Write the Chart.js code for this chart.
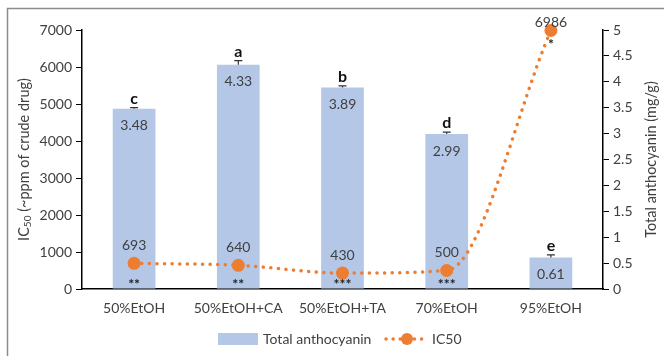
<!DOCTYPE html>
<html>
<head>
<meta charset="utf-8">
<script src="https://cdn.jsdelivr.net/npm/chart.js@4.4.1/dist/chart.umd.min.js"></script>
<style>
  html, body { margin: 0; padding: 0; background: #fff; }
  #wrap { position: relative; width: 664px; height: 356px; }
</style>
</head>
<body>
<div id="wrap"><canvas id="chart" width="664" height="356"></canvas></div>
<script>
// extraction solvents
const categories = ['50%EtOH', '50%EtOH+CA', '50%EtOH+TA', '70%EtOH', '95%EtOH'];

// total anthocyanin (mg/g), right axis
const anthocyanin = [3.48, 4.33, 3.89, 2.99, 0.61];
const anthocyaninErr = [0.02, 0.08, 0.03, 0.04, 0.05];
const groupLetters = ['c', 'a', 'b', 'd', 'e'];

// IC50 (~ppm of crude drug), left axis
const ic50 = [693, 640, 430, 500, 6986];
const significance = ['**', '**', '***', '***', '*'];

const leftMax = 7000, leftStep = 1000;
const rightMax = 5, rightStep = 0.5;

const BAR_COLOR = '#b4c7e7';
const LINE_COLOR = '#ed7d31';
const TEXT_COLOR = '#404040';
const FONT = 'Lato, "Open Sans", sans-serif';

// labels, error bars, axis titles, legend and frame
const extras = {
    id: 'extras',
    afterDatasetsDraw(chart) {
        const ctx = chart.ctx;
        const yR = chart.scales.yR;
        const area = chart.chartArea;
        const bars = chart.getDatasetMeta(1).data;
        const pts = chart.getDatasetMeta(0).data;

        ctx.save();
        ctx.textAlign = 'center';
        ctx.textBaseline = 'middle';

        bars.forEach((bar, i) => {
            // error bar
            const yTop = yR.getPixelForValue(anthocyanin[i] + anthocyaninErr[i]);
            ctx.strokeStyle = '#333';
            ctx.lineWidth = 1.2;
            ctx.beginPath();
            ctx.moveTo(bar.x, bar.y);
            ctx.lineTo(bar.x, yTop);
            ctx.moveTo(bar.x - 4, yTop);
            ctx.lineTo(bar.x + 4, yTop);
            ctx.stroke();

            // value inside the bar
            ctx.fillStyle = TEXT_COLOR;
            ctx.font = '14px ' + FONT;
            ctx.fillText(anthocyanin[i].toFixed(2), bar.x, bar.y + 17);

            // group letter
            ctx.fillStyle = '#111';
            ctx.font = 'bold 16px ' + FONT;
            ctx.fillText(groupLetters[i], bar.x, yTop - 9);
        });

        pts.forEach((p, i) => {
            ctx.fillStyle = TEXT_COLOR;
            ctx.font = '14px ' + FONT;
            ctx.fillText(String(ic50[i]), p.x, Math.max(p.y - 18, 22));

            ctx.fillStyle = '#222';
            ctx.font = 'bold 14px ' + FONT;
            const sy = (area.bottom - p.y < 40) ? area.bottom - 5 : p.y + 14;
            ctx.fillText(significance[i], p.x, sy);
        });

        // left axis title with subscript
        ctx.save();
        ctx.translate(24, (area.top + area.bottom) / 2);
        ctx.rotate(-Math.PI / 2);
        ctx.fillStyle = TEXT_COLOR;
        ctx.textAlign = 'left';
        ctx.textBaseline = 'middle';
        const big = '14.5px ' + FONT, small = '10px ' + FONT;
        const parts = [['IC', big, 0], ['50', small, 4], [' (~ppm of crude drug)', big, 0]];
        let total = 0;
        parts.forEach(pt => { ctx.font = pt[1]; total += ctx.measureText(pt[0]).width; });
        let x = -total / 2;
        parts.forEach(pt => {
            ctx.font = pt[1];
            ctx.fillText(pt[0], x, pt[2]);
            x += ctx.measureText(pt[0]).width;
        });
        ctx.restore();

        // right axis title
        ctx.save();
        ctx.translate(651, (area.top + area.bottom) / 2);
        ctx.rotate(-Math.PI / 2);
        ctx.fillStyle = TEXT_COLOR;
        ctx.font = '14.5px ' + FONT;
        ctx.fillText('Total anthocyanin (mg/g)', 0, 0);
        ctx.restore();

        // legend
        const ly = 339;
        ctx.fillStyle = BAR_COLOR;
        ctx.fillRect(218, ly - 6, 40, 12);
        ctx.fillStyle = TEXT_COLOR;
        ctx.font = '14px ' + FONT;
        ctx.textAlign = 'left';
        ctx.fillText('Total anthocyanin', 263, ly);
        ctx.strokeStyle = LINE_COLOR;
        ctx.lineWidth = 3.5;
        ctx.lineCap = 'round';
        ctx.setLineDash([0.1, 7]);
        ctx.beginPath();
        ctx.moveTo(386, ly);
        ctx.lineTo(428, ly);
        ctx.stroke();
        ctx.setLineDash([]);
        ctx.fillStyle = LINE_COLOR;
        ctx.beginPath();
        ctx.arc(407, ly, 6, 0, Math.PI * 2);
        ctx.fill();
        ctx.fillStyle = TEXT_COLOR;
        ctx.fillText('IC50', 432, ly);

        // outer frame (left and top edges)
        ctx.strokeStyle = '#8c8c8c';
        ctx.lineWidth = 1.5;
        ctx.beginPath();
        ctx.moveTo(7.5, 360);
        ctx.lineTo(7.5, 8.5);
        ctx.lineTo(670, 8.5);
        ctx.stroke();

        ctx.restore();
    }
};

new Chart(document.getElementById('chart').getContext('2d'), {
    data: {
        labels: categories,
        datasets: [
            {
                type: 'line',
                label: 'IC50',
                data: ic50,
                yAxisID: 'yL',
                order: 0,
                borderColor: LINE_COLOR,
                backgroundColor: LINE_COLOR,
                borderWidth: 3.5,
                borderDash: [0.1, 7.5],
                borderCapStyle: 'round',
                cubicInterpolationMode: 'monotone',
                pointRadius: 6.5,
                pointBorderWidth: 0,
                pointBackgroundColor: LINE_COLOR,
                clip: false,
                fill: false
            },
            {
                type: 'bar',
                label: 'Total anthocyanin',
                data: anthocyanin,
                yAxisID: 'yR',
                order: 1,
                backgroundColor: BAR_COLOR,
                categoryPercentage: 1,
                barPercentage: 0.41
            }
        ]
    },
    options: {
        responsive: false,
        animation: false,
        layout: { padding: { top: 30, bottom: 37, left: 0, right: 0 } },
        plugins: {
            legend: { display: false },
            tooltip: { enabled: false }
        },
        scales: {
            x: {
                grid: { display: true, drawOnChartArea: false, drawTicks: false },
                border: { color: '#000', width: 1.5 },
                ticks: { color: TEXT_COLOR, font: { size: 14, family: FONT }, padding: 11 },
                afterFit: s => { s.height = 30; }
            },
            yL: {
                position: 'left',
                min: 0,
                max: leftMax,
                grid: { display: true, drawOnChartArea: false, tickLength: 6, color: '#000' },
                border: { color: '#000', width: 1.5 },
                ticks: {
                    stepSize: leftStep, color: TEXT_COLOR, font: { size: 14, family: FONT }, padding: 4,
                    callback: v => String(v)
                },
                afterFit: s => { s.width = 82; }
            },
            yR: {
                position: 'right',
                min: 0,
                max: rightMax,
                grid: { display: true, drawOnChartArea: false, tickLength: 6, color: '#000' },
                border: { color: '#000', width: 1.5 },
                ticks: {
                    stepSize: rightStep, color: TEXT_COLOR, font: { size: 14, family: FONT }, padding: 4,
                    callback: v => String(v)
                },
                afterFit: s => { s.width = 61; }
            }
        }
    },
    plugins: [extras]
});
</script>
</body>
</html>
